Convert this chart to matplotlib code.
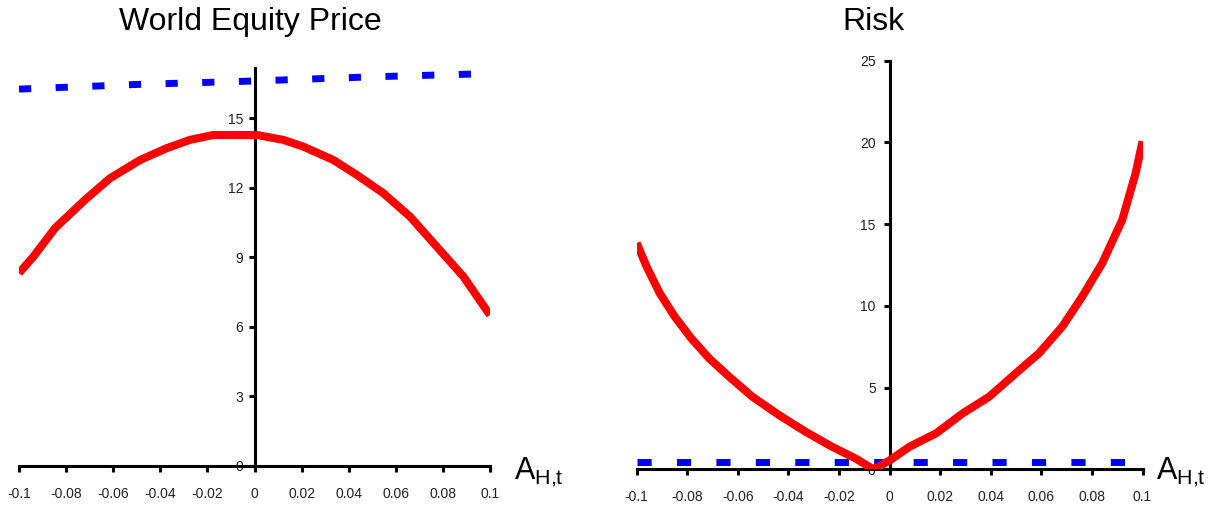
import matplotlib
matplotlib.use("Agg")
import matplotlib.pyplot as plt

plt.rcParams['font.family'] = ['Liberation Sans Narrow', 'Liberation Sans', 'DejaVu Sans']
plt.rcParams['lines.scale_dashes'] = False

# World Equity Price (left)
price_x = [-0.1, -0.0939, -0.0847, -0.072, -0.0614, -0.0486, -0.0373, -0.0274, -0.0175,
           0.001, 0.0122, 0.0207, 0.0335, 0.0434, 0.0547, 0.066, 0.0774, 0.0887, 0.1]
price_y = [8.31, 9.02, 10.25, 11.47, 12.40, 13.19, 13.70, 14.06, 14.27,
           14.27, 14.06, 13.77, 13.19, 12.55, 11.76, 10.75, 9.45, 8.16, 6.50]
price_base_x = [-0.1, -0.05, 0.0, 0.05, 0.1]
price_base_y = [16.25, 16.45, 16.6, 16.78, 16.92]

# Risk (right)
risk_x = [-0.1, -0.0961, -0.0909, -0.085, -0.0785, -0.0714, -0.0635, -0.0543, -0.0438,
          -0.0333, -0.0228, -0.0136, -0.0063, 0.0, 0.0079, 0.0184, 0.0289, 0.0394,
          0.0499, 0.0591, 0.0683, 0.0762, 0.0841, 0.092, 0.0973, 0.1]
risk_y = [13.85, 12.41, 10.78, 9.35, 8.03, 6.80, 5.68, 4.45, 3.33,
          2.31, 1.39, 0.68, 0.0, 0.55, 1.39, 2.21, 3.43, 4.45,
          5.88, 7.11, 8.74, 10.58, 12.62, 15.27, 18.13, 20.07]
risk_base_x = [-0.1, 0.1]
risk_base_y = [0.47, 0.47]

xticks = [-0.1, -0.08, -0.06, -0.04, -0.02, 0, 0.02, 0.04, 0.06, 0.08, 0.1]
xticklabels = ['-0.1', '-0.08', '-0.06', '-0.04', '-0.02', '0', '0.02', '0.04', '0.06', '0.08', '0.1']

W, H = 1219, 511
fig = plt.figure(figsize=(W / 100, H / 100), dpi=100)


def px_axes(x0, x1, y0, y1):
    # pixel box -> figure fraction
    return fig.add_axes([x0 / W, 1 - y0 / H, (x1 - x0) / W, (y0 - y1) / H])


def style(ax, ymax, yticks, ypad):
    ax.set_xlim(-0.1, 0.1)
    ax.set_ylim(0, ymax)
    for s in ['top', 'right']:
        ax.spines[s].set_visible(False)
    ax.spines['left'].set_position(('data', 0))
    for s in ['left', 'bottom']:
        ax.spines[s].set_linewidth(2.2)
    ax.set_xticks(xticks)
    ax.set_xticklabels(xticklabels)
    ax.set_yticks(yticks)
    ax.set_yticklabels([str(v) for v in yticks])
    ax.tick_params(axis='x', direction='out', length=4, width=2.2, pad=11,
                   labelsize=10, colors='black', labelcolor='#222222')
    ax.tick_params(axis='y', direction='out', length=4, width=2.2, pad=ypad,
                   labelsize=10, colors='black', labelcolor='#222222')
    ax.patch.set_alpha(0)


# left panel
ax1 = px_axes(19, 490, 465.7, 68)
ax1.plot(price_x, price_y, c='red', lw=5.8, solid_capstyle='butt', zorder=3)
ax1.plot(price_base_x, price_base_y, c='blue', lw=5, dashes=(8.8, 17.6),
         dash_capstyle='butt', zorder=3)
style(ax1, 17.16, [0, 3, 6, 9, 12, 15], 4)

# right panel
ax2 = px_axes(636.7, 1142.5, 469.4, 60.7)
ax2.plot(risk_x, risk_y, c='red', lw=5.8, solid_capstyle='butt', zorder=3)
ax2.plot(risk_base_x, risk_base_y, c='blue', lw=5, dashes=(10.2, 18.2),
         dash_capstyle='butt', zorder=2)
style(ax2, 25, [0, 5, 10, 15, 20, 25], 6)

fig.text(250 / W, 1 - 22 / H, 'World Equity Price', ha='center', va='center',
         fontsize=23, family=['Liberation Sans', 'DejaVu Sans'])
fig.text(873 / W, 1 - 22 / H, 'Risk', ha='center', va='center',
         fontsize=23, family=['Liberation Sans', 'DejaVu Sans'])

plt.rcParams['mathtext.fontset'] = 'custom'
plt.rcParams['mathtext.rm'] = 'Liberation Sans'
for xl in [514, 1156]:
    fig.text(xl / W, 1 - 479 / H, r'$\mathregular{A_{H{,}t}}$', ha='left', va='baseline',
             fontsize=22, family=['Liberation Sans', 'DejaVu Sans'])

fig.savefig('out.png', dpi=100)
